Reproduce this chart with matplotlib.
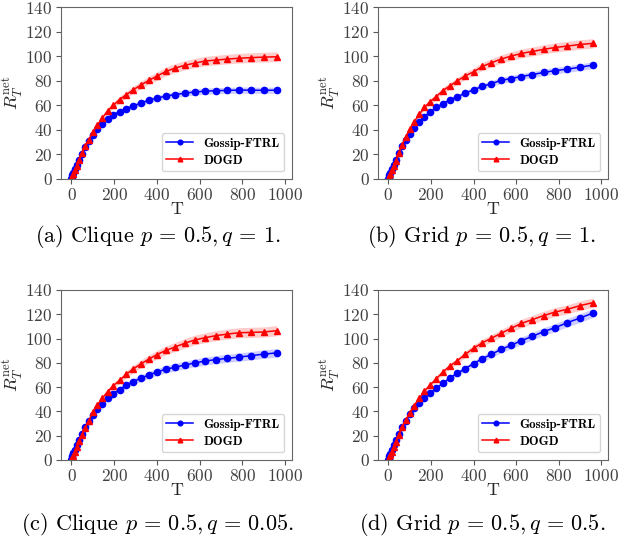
import matplotlib
matplotlib.use("Agg")
import matplotlib.pyplot as plt
import numpy as np

plt.rcParams['font.family'] = ['cmr10', 'DejaVu Serif']
plt.rcParams['mathtext.fontset'] = 'cm'
plt.rcParams['axes.formatter.use_mathtext'] = True

# time steps where the curves are sampled (k^2)
T = [0, 1, 4, 9, 16, 25, 36, 49, 64, 81, 100, 121, 144, 169, 196, 225, 256,
     289, 324, 361, 400, 441, 484, 529, 576, 625, 676, 729, 784, 841, 900, 961]

# (a) Clique p=0.5, q=1
gossip_a = [0, 1.4, 3.2, 5.2, 8, 11.3, 15.5, 20.6, 26.2, 31.3, 36.1, 40.5, 44.5, 49, 52.2, 54.9, 57.3,
            59.5, 61.7, 64, 65.8, 67.5, 68.7, 69.8, 70.8, 71.5, 71.9, 72.1, 72.4, 72.3, 72.2, 72.3]
dogd_a = [0, 0.5, 2, 4, 7.2, 10.8, 15.2, 21, 26.5, 32, 38, 43.8, 49.7, 55.5, 60, 64.7, 68.5,
          72.6, 76.4, 80.2, 83.7, 87.5, 90.2, 92.5, 94.3, 96, 96.8, 97.6, 98.3, 98.8, 99.2, 99.5]

# (b) Grid p=0.5, q=1
gossip_b = [0, 1.2, 3, 5, 8, 11.5, 15.5, 21, 26.8, 32, 37, 41.6, 46.5, 50.8, 54.6, 58.2, 61.4,
            64.4, 66.9, 69.9, 72.6, 75.3, 77.7, 80.2, 81.8, 83.4, 85, 86.7, 88.3, 89.4, 91, 92.7]
dogd_b = [0, 0.5, 2, 4, 7.3, 10.9, 15, 21.5, 27.5, 34, 40.5, 46.7, 52.5, 58.2, 63, 67.1, 72,
          75.8, 79.9, 84, 87.2, 91.6, 94.6, 97.6, 100, 102.2, 103.8, 105.5, 107.1, 108.2, 109.5, 110.4]

# (c) Clique p=0.5, q=0.05
gossip_c = [0, 1.3, 3.2, 5.5, 8.5, 12, 16.2, 21.2, 26.8, 32, 37.3, 41.7, 46.4, 50.8, 54.6, 58, 61.5,
            64.6, 67.3, 70, 72.5, 74.7, 76.4, 78.2, 79.9, 81.5, 82.7, 83.7, 84.8, 85.9, 87.2, 88.2]
dogd_c = [0, 0.5, 1.8, 3.5, 6.5, 10.8, 15.3, 20.5, 26.5, 32.4, 39.5, 45.3, 50.8, 56.3, 61.2, 65.5, 70.5,
          75, 79, 83, 86.8, 90.2, 93, 96.1, 98.8, 100.7, 102.4, 103.7, 104.8, 105.1, 105.4, 106.5]

# (d) Grid p=0.5, q=0.5
gossip_d = [0, 1.2, 3, 5.2, 8, 12, 16.5, 21.5, 27, 32.5, 37.5, 42.5, 47, 51.3, 55.3, 59, 63.3,
            67.5, 71.4, 75.3, 79.3, 83.4, 87, 91.1, 94.4, 98.3, 101.8, 105.7, 109, 113.1, 116.9, 121]
dogd_d = [0, 0.5, 2, 4, 6.8, 10.5, 15.2, 20.8, 26.8, 32.8, 38.8, 44.8, 50.8, 56.8, 61.8, 66.9, 72.5,
          77.4, 81.8, 87, 92, 96.5, 100.3, 104.3, 108.4, 112.5, 115.6, 118.9, 121.9, 124.1, 127.1, 129.6]

# relative half-width of the shaded bands (gossip, dogd)
spread_a = [0.035, 0.04]
spread_b = [0.03, 0.035]
spread_c = [0.04, 0.04]
spread_d = [0.03, 0.03]

captions = [r"(a) Clique $p\,=\,0.5, q\,=\,1.$", r"(b) Grid $p\,=\,0.5, q\,=\,1.$",
            r"(c) Clique $p\,=\,0.5, q\,=\,0.05.$", r"(d) Grid $p\,=\,0.5, q\,=\,0.5.$"]

W, H = 623, 537
fig = plt.figure(figsize=(W / 100, H / 100), dpi=100)

panels = [
    ([61, 7, 292, 179], gossip_a, dogd_a, spread_a, captions[0], (158, 237)),
    ([378, 7, 608, 179], gossip_b, dogd_b, spread_b, captions[1], (482, 237)),
    ([61, 290, 292, 460], gossip_c, dogd_c, spread_c, captions[2], (157, 525)),
    ([378, 290, 608, 460], gossip_d, dogd_d, spread_d, captions[3], (482, 525)),
]

t = np.array(T)
for box, g, d, sp, cap, cpos in panels:
    l, tp, r, b = box
    ax = fig.add_axes([l / W, 1 - b / H, (r - l) / W, (b - tp) / H])
    g = np.array(g)
    d = np.array(d)
    ax.fill_between(t, g * (1 - sp[0]), g * (1 + sp[0]), color='blue', alpha=0.2, lw=0)
    ax.fill_between(t, d * (1 - sp[1]), d * (1 + sp[1]), color='red', alpha=0.2, lw=0)
    ax.plot(t, g, color='blue', marker='o', markersize=4.5, lw=1.1, label='Gossip-FTRL')
    ax.plot(t, d, color='red', marker='^', markersize=4.5, lw=1.1, label='DOGD')
    ax.set_xlim(-49, 1032)
    ax.set_ylim(0, 140)
    ax.set_xticks([0, 200, 400, 600, 800, 1000])
    ax.set_yticks(range(0, 141, 20))
    ax.tick_params(labelsize=12.5, colors='0.35', labelcolor='0.25', length=3.5, pad=2.5)
    for s in ax.spines.values():
        s.set_color('0.4')
    ax.set_xlabel('T', fontsize=13, color='0.15', labelpad=-1)
    ax.set_ylabel(r'$R_T^{\mathrm{net}}$', fontsize=13, color='0.15', labelpad=0)
    ax.legend(loc='lower right', prop={'family': 'cmb10', 'size': 9.3},
              handlelength=2.1, borderpad=0.35, labelspacing=0.4, markerscale=0.75,
              edgecolor='0.8', borderaxespad=0.6)
    fig.text(cpos[0] / W, 1 - cpos[1] / H, cap, ha='center', va='center', fontsize=16)

fig.savefig('out.png', dpi=100)
